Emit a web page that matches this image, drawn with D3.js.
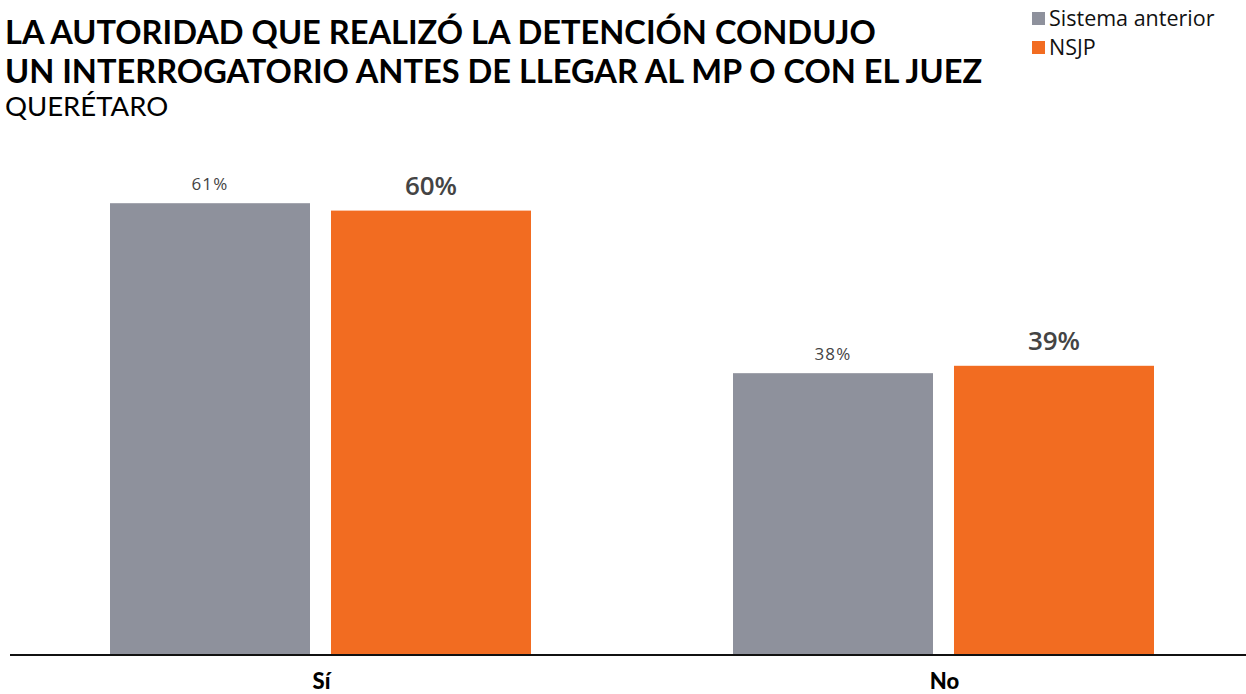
<!DOCTYPE html>
<html>
<head>
<meta charset="utf-8">
<script src="https://cdn.jsdelivr.net/npm/d3@7"></script>
<style>
  body { margin: 0; background: #fff; }
</style>
</head>
<body>
<svg width="1246" height="694"></svg>
<script>
// Data
var categories = ["Sí", "No"];
var series = ["Sistema anterior", "NSJP"];
var anterior = [61, 38];
var nsjp = [60, 39];
var colors = ["#8e919c", "#f26c21"];

var svg = d3.select("svg");
var baseY = 654;

// Title
var title = svg.append("g").attr("font-family", "Lato").attr("fill", "#000");
title.append("text").attr("x", 5).attr("y", 44)
  .attr("font-size", 32.6).attr("font-weight", 700)
  .text("LA AUTORIDAD QUE REALIZÓ LA DETENCIÓN CONDUJO");
title.append("text").attr("x", 5).attr("y", 83)
  .attr("font-size", 32.6).attr("font-weight", 700)
  .text("UN INTERROGATORIO ANTES DE LLEGAR AL MP O CON EL JUEZ");
title.append("text").attr("x", 5).attr("y", 116)
  .attr("font-size", 27.5).attr("font-weight", 400)
  .text("QUERÉTARO");

// Legend
var legend = svg.append("g").attr("transform", "translate(1032,12)");
series.forEach(function (s, i) {
  legend.append("rect").attr("x", 0).attr("y", i * 29)
    .attr("width", 13).attr("height", 13).attr("fill", colors[i]);
  legend.append("text").attr("x", 17).attr("y", i * 29 + 14)
    .attr("font-family", "Open Sans").attr("font-size", 21.5)
    .attr("fill", "#111").text(s);
});

// Scales
var x0 = d3.scaleBand().domain(categories).range([10, 1256]).padding(0);
var x1 = d3.scaleBand().domain(series).range([0, 421]).paddingInner(0.095);
var y = d3.scaleLinear().domain([0, 100]).range([baseY, baseY - 739]);

var rows = categories.map(function (c, i) {
  return { cat: c, values: [anterior[i], nsjp[i]] };
});

var groups = svg.selectAll(".grp").data(rows).enter().append("g")
  .attr("class", "grp")
  .attr("transform", function (d) {
    return "translate(" + (x0(d.cat) + x0.bandwidth() / 2 - 211.5) + ",0)";
  });

groups.selectAll("rect").data(function (d) {
  return d.values.map(function (v, i) { return { s: series[i], v: v, i: i }; });
}).enter().append("rect")
  .attr("x", function (d) { return x1(d.s); })
  .attr("y", function (d) { return y(d.v); })
  .attr("width", x1.bandwidth())
  .attr("height", function (d) { return baseY - y(d.v); })
  .attr("fill", function (d) { return colors[d.i]; });

groups.selectAll("text.val").data(function (d) {
  return d.values.map(function (v, i) { return { s: series[i], v: v, i: i }; });
}).enter().append("text")
  .attr("class", "val")
  .attr("x", function (d) { return x1(d.s) + x1.bandwidth() / 2; })
  .attr("y", function (d) { return y(d.v) - (d.i === 0 ? 13 : 16); })
  .attr("text-anchor", "middle")
  .attr("font-family", "Open Sans")
  .attr("font-size", function (d) { return d.i === 0 ? 17 : 26; })
  .attr("font-weight", function (d) { return d.i === 0 ? 400 : 600; })
  .attr("letter-spacing", function (d) { return d.i === 0 ? 1.2 : 0; })
  .attr("fill", "#444")
  .text(function (d) { return d.v + "%"; });

// Axis line
svg.append("line").attr("x1", 10).attr("x2", 1246)
  .attr("y1", baseY + 1).attr("y2", baseY + 1)
  .attr("stroke", "#111").attr("stroke-width", 2);

// Category labels
svg.selectAll("text.cat").data(categories).enter().append("text")
  .attr("class", "cat")
  .attr("x", function (d) { return x0(d) + x0.bandwidth() / 2; })
  .attr("y", 689)
  .attr("text-anchor", "middle")
  .attr("font-family", "Lato").attr("font-weight", 900)
  .attr("font-size", 22).attr("fill", "#000")
  .text(function (d) { return d; });
</script>
</body>
</html>
